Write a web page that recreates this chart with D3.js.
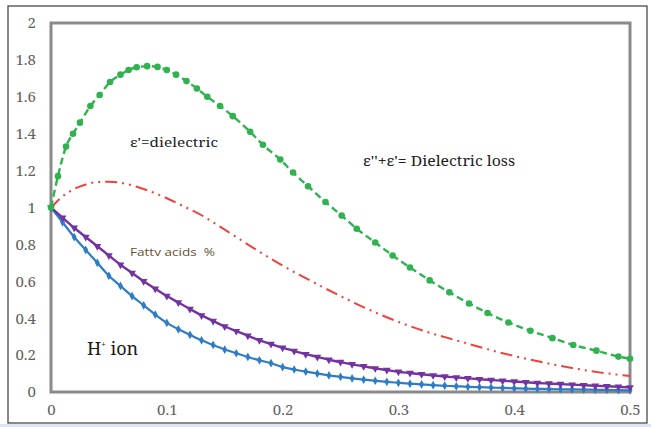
<!DOCTYPE html>
<html>
<head>
<meta charset="utf-8">
<script src="https://cdn.jsdelivr.net/npm/d3@7"></script>
<style>
  body { margin: 0; background: #fff; }
  svg { display: block; }
  text { white-space: pre; }
</style>
</head>
<body>
<div id="chart"></div>
<script>
// values
var xTicks = [0, 0.1, 0.2, 0.3, 0.4, 0.5]
var yTicks = [0, 0.2, 0.4, 0.6, 0.8, 1, 1.2, 1.4, 1.6, 1.8, 2]

var greenX = [0, 0.006, 0.013, 0.019, 0.025, 0.034, 0.042, 0.051, 0.06, 0.067, 0.074, 0.083, 0.092, 0.1, 0.108,
  0.117, 0.126, 0.135, 0.146, 0.157, 0.172, 0.183, 0.198, 0.209, 0.222, 0.237, 0.251, 0.264, 0.28, 0.295,
  0.31, 0.327, 0.344, 0.361, 0.377, 0.395, 0.414, 0.433, 0.451, 0.471, 0.49, 0.5]
var greenY = [1.0, 1.17, 1.33, 1.4, 1.46, 1.55, 1.61, 1.68, 1.72, 1.745, 1.76, 1.766, 1.762, 1.745, 1.72,
  1.685, 1.645, 1.6, 1.55, 1.495, 1.41, 1.34, 1.26, 1.19, 1.115, 1.03, 0.956, 0.885, 0.81, 0.74,
  0.675, 0.605, 0.54, 0.48, 0.428, 0.377, 0.332, 0.292, 0.255, 0.224, 0.192, 0.18]

var redX = [0, 0.01, 0.02, 0.03, 0.04, 0.05, 0.06, 0.07, 0.08, 0.09, 0.1, 0.11, 0.12, 0.13, 0.14, 0.15,
  0.175, 0.2, 0.225, 0.25, 0.275, 0.3, 0.325, 0.35, 0.375, 0.4, 0.425, 0.45, 0.475, 0.5]
var redY = [1.0, 1.06, 1.1, 1.125, 1.138, 1.14, 1.134, 1.12, 1.1, 1.077, 1.05, 1.02, 0.99, 0.958, 0.92, 0.88,
  0.78, 0.685, 0.6, 0.52, 0.445, 0.38, 0.325, 0.28, 0.235, 0.195, 0.16, 0.13, 0.105, 0.087]

var stepX = [0, 0.01, 0.02, 0.03, 0.04, 0.05, 0.06, 0.07, 0.08, 0.09, 0.1, 0.11, 0.12, 0.13, 0.14, 0.15, 0.16,
  0.17, 0.18, 0.19, 0.2, 0.21, 0.22, 0.23, 0.24, 0.25, 0.26, 0.27, 0.28, 0.29, 0.3, 0.31, 0.32, 0.33,
  0.34, 0.35, 0.36, 0.37, 0.38, 0.39, 0.4, 0.41, 0.42, 0.43, 0.44, 0.45, 0.46, 0.47, 0.48, 0.49, 0.5]
var purpleY = [1.0, 0.945, 0.89, 0.84, 0.79, 0.74, 0.69, 0.645, 0.6, 0.56, 0.52, 0.485, 0.45, 0.415, 0.385, 0.355, 0.33,
  0.305, 0.28, 0.26, 0.24, 0.222, 0.205, 0.19, 0.175, 0.162, 0.15, 0.139, 0.128, 0.119, 0.11, 0.103, 0.096, 0.09,
  0.084, 0.079, 0.074, 0.069, 0.065, 0.061, 0.057, 0.053, 0.049, 0.046, 0.043, 0.04, 0.037, 0.034, 0.031, 0.028, 0.025]
var blueY = [1.0, 0.92, 0.84, 0.77, 0.7, 0.63, 0.575, 0.52, 0.47, 0.42, 0.375, 0.34, 0.31, 0.28, 0.255, 0.23, 0.21,
  0.19, 0.172, 0.156, 0.135, 0.122, 0.11, 0.1, 0.09, 0.082, 0.074, 0.067, 0.061, 0.055, 0.05, 0.045, 0.041, 0.037,
  0.034, 0.031, 0.028, 0.026, 0.024, 0.022, 0.02, 0.018, 0.017, 0.016, 0.015, 0.014, 0.013, 0.012, 0.011, 0.01, 0.009]

var makeChart = function() {
  var width = 651
    , height = 427
    , plot = { left: 51, top: 23, right: 630, bottom: 392 }
    , xScale = d3.scaleLinear().domain([0, 0.5]).range([plot.left, plot.right])
    , yScale = d3.scaleLinear().domain([0, 2]).range([plot.bottom, plot.top])
    , serif = "'Noto Serif', 'Liberation Serif', serif"
    , svg = d3.select('#chart').append('svg')
      .attr('width', width)
      .attr('height', height)

  function pairs(xs, ys) {
    return xs.map(function(x, i) { return [x, ys[i]] })
  }

  var line = d3.line()
    .x(function(d) { return xScale(d[0]) })
    .y(function(d) { return yScale(d[1]) })
    .curve(d3.curveMonotoneX)

  // strip under the outer border
  svg.append('rect')
  .attr('x', 0).attr('y', 424).attr('width', width).attr('height', 3)
  .attr('fill', '#dfe5ee')

  // outer border
  svg.append('rect')
  .attr('x', 8).attr('y', 6).attr('width', 639).attr('height', 417)
  .attr('fill', '#fff')
  .attr('stroke', '#4a4a4a')
  .attr('stroke-width', 1.3)

  // y axis labels
  var yAxis = d3.axisLeft(yScale).tickValues(yTicks).tickSize(0).tickPadding(15)
    .tickFormat(function(d) { return d3.format('')(+d.toFixed(1)) })
  var gy = svg.append('g').attr('transform', 'translate(' + plot.left + ',0)').call(yAxis)
  gy.select('.domain').remove()
  gy.selectAll('text')
  .style('font-family', serif)
  .style('font-size', '15px')
  .attr('fill', '#5f5f5f')

  // x axis labels
  var xAxis = d3.axisBottom(xScale).tickValues(xTicks).tickSize(0).tickPadding(12)
    .tickFormat(function(d) { return d3.format('')(+d.toFixed(1)) })
  var gx = svg.append('g').attr('transform', 'translate(0,' + plot.bottom + ')').call(xAxis)
  gx.select('.domain').remove()
  gx.selectAll('text')
  .style('font-family', serif)
  .style('font-size', '15px')
  .attr('fill', '#5f5f5f')

  // plot frame
  svg.append('rect')
  .attr('x', plot.left).attr('y', plot.top)
  .attr('width', plot.right - plot.left).attr('height', plot.bottom - plot.top)
  .attr('fill', 'none')
  .attr('stroke', '#8a8a8a')
  .attr('stroke-width', 3)

  // red dash-dot-dot
  svg.append('path')
  .datum(pairs(redX, redY))
  .attr('d', line)
  .attr('fill', 'none')
  .attr('stroke', '#f0403c')
  .attr('stroke-width', 2)
  .attr('stroke-dasharray', '12,5,2,5,2,5')

  // blue with diamonds
  var blue = pairs(stepX, blueY)
  svg.append('path')
  .datum(blue)
  .attr('d', line)
  .attr('fill', 'none')
  .attr('stroke', '#2f7cc6')
  .attr('stroke-width', 2.2)
  svg.selectAll('.blue-pt').data(blue).enter().append('path')
  .attr('class', 'blue-pt')
  .attr('d', d3.symbol().type(d3.symbolDiamond).size(22))
  .attr('transform', function(d) { return 'translate(' + xScale(d[0]) + ',' + yScale(d[1]) + ')' })
  .attr('fill', '#2f7cc6')

  // purple with triangles
  var purple = pairs(stepX, purpleY)
  svg.append('path')
  .datum(purple)
  .attr('d', line)
  .attr('fill', 'none')
  .attr('stroke', '#7432a2')
  .attr('stroke-width', 2.4)
  svg.selectAll('.purple-pt').data(purple).enter().append('path')
  .attr('class', 'purple-pt')
  .attr('d', d3.symbol().type(d3.symbolTriangle).size(26))
  .attr('transform', function(d) { return 'translate(' + xScale(d[0]) + ',' + yScale(d[1]) + ') rotate(180)' })
  .attr('fill', '#7432a2')

  // green dashed with dots
  var green = pairs(greenX, greenY)
  svg.append('path')
  .datum(green)
  .attr('d', line)
  .attr('fill', 'none')
  .attr('stroke', '#2fb24f')
  .attr('stroke-width', 2.4)
  .attr('stroke-dasharray', '7,4')
  svg.selectAll('.green-pt').data(green).enter().append('circle')
  .attr('class', 'green-pt')
  .attr('cx', function(d) { return xScale(d[0]) })
  .attr('cy', function(d) { return yScale(d[1]) })
  .attr('r', 3.3)
  .attr('fill', '#2fb24f')

  // annotations
  svg.append('text')
  .attr('x', 130).attr('y', 147)
  .style('font-family', serif)
  .style('font-size', '13px')
  .attr('textLength', 88)
  .attr('lengthAdjust', 'spacingAndGlyphs')
  .attr('fill', '#222')
  .text("ε'=dielectric")

  svg.append('text')
  .attr('x', 363).attr('y', 166)
  .style('font-family', serif)
  .style('font-size', '14px')
  .attr('textLength', 152)
  .attr('lengthAdjust', 'spacingAndGlyphs')
  .attr('fill', '#222')
  .text("ε''+ε'= Dielectric loss")

  svg.append('text')
  .attr('x', 130).attr('y', 256)
  .style('font-family', "'Open Sans', sans-serif")
  .style('font-size', '10.5px')
  .attr('textLength', 85)
  .attr('lengthAdjust', 'spacingAndGlyphs')
  .attr('fill', '#6a5030')
  .text('Fattv acids  %')

  var h = svg.append('text')
  .attr('x', 87).attr('y', 355)
  .style('font-family', serif)
  .style('font-size', '18px')
  .attr('fill', '#1a1a1a')
  h.append('tspan').text('H')
  h.append('tspan').style('font-size', '8px').attr('dy', -8).text('+')
  h.append('tspan').attr('dy', 8).text(' ion')
}

makeChart()
</script>
</body>
</html>
